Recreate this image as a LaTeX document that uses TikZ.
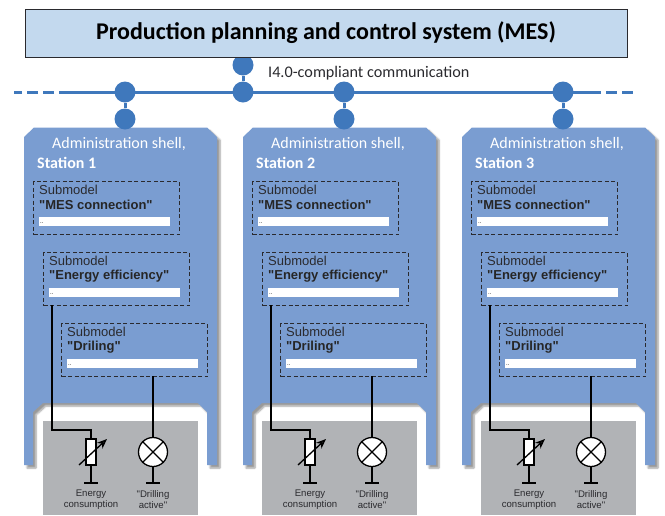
\documentclass[tikz,border=0pt]{standalone}
\usepackage{fontspec}
\newfontfamily\arial{Liberation Sans}
\newfontfamily\calibri{Carlito}
\usepackage{xcolor}
\usetikzlibrary{arrows.meta,positioning,shadows.blur}
\definecolor{busblue}{HTML}{3F78BC}
\definecolor{shellblue}{HTML}{7A9DD1}
\definecolor{headblue}{HTML}{C3D9EE}
\definecolor{boxgray}{HTML}{B1B3B6}
\definecolor{inkgray}{HTML}{2A2A2E}
\tikzset{
  x=1pt, y=-1pt,
  joint/.style={circle, fill=busblue, minimum size=21pt, inner sep=0},
  bus/.style={busblue, line width=3pt},
  shell/.style={fill=shellblue, blur shadow={shadow xshift=3pt, shadow yshift=-3pt, shadow blur steps=6}},
  submodel/.style={draw=inkgray, dash pattern=on 4pt off 2.5pt, line width=1.2pt, minimum width=146pt, minimum height=53pt, inner sep=0, anchor=north west},
  bar/.style={fill=white, minimum width=131pt, minimum height=9pt, inner sep=0, anchor=north west},
  wire/.style={draw=black, line width=1.3pt},
  small/.style={font=\arial\fontsize{9.6}{11.3}\selectfont, text=inkgray, align=center},
}

\begin{document}
\begin{tikzpicture}
    \useasboundingbox (0,0) rectangle (665,515);

    % bus
    \coordinate (busleft) at (14,92);
    \coordinate (busright) at (636,92);
    \coordinate (busa) at (70,92);
    \coordinate (busb) at (590,92);
    \draw[bus] (busa) -- (busb);
    \draw[bus, dash pattern=on 11pt off 5pt] (busa) -- (busleft);
    \draw[bus, dash pattern=on 11pt off 5pt] (busb) -- (busright);

    % stations
    \foreach \n/\dx in {1/0,2/219,3/438}{
      \begin{scope}[xshift=\dx pt]
        \draw[shell, draw=none]
          (24,137) -- (34,127.5) -- (207,127.5) -- (217,137) -- (217,465) -- (207,465)
          -- (207,412) -- (198,403) -- (43,403) -- (33,412) -- (33,465) -- (24,465) -- cycle;
        \node[fill=boxgray, minimum width=155pt, minimum height=94pt, inner sep=0, anchor=north west] (plant\n) at (43,421) {};

        \node[text=white, font=\calibri\fontsize{16}{18}\selectfont] (shell\n) at (119,144) {Administration shell,};
        \node[text=white, font=\calibri\bfseries\fontsize{16}{18}\selectfont, anchor=west, inner sep=0] (name\n) at (37,163) {Station \n};

        \foreach \s/\t/\lx/\ly in {mes/"MES connection"/33/181, energy/"Energy efficiency"/43/252, drill/"Driling"/61/323}{
          \node[submodel] (\s\n) at (\lx,\ly) {};
          \node[anchor=west, inner sep=0, text=inkgray, font=\arial\fontsize{13}{15}\selectfont] (\s label\n) at ([shift={(6,8.5)}]\lx,\ly) {Submodel};
          \node[anchor=west, inner sep=0, text=black!85, font=\arial\bfseries\fontsize{13}{15}\selectfont] (\s title\n) at ([shift={(6,24)}]\lx,\ly) {\t};
          \node[bar] (\s bar\n) at ([shift={(6,36)}]\lx,\ly) {};
          \node[anchor=west, inner sep=0, font=\arial\fontsize{6}{7}\selectfont] (\s dots\n) at ([shift={(1,1)}]\s bar\n.west) {..};
        }

        % instruments
        \node[draw=black, fill=white, line width=1.3pt, minimum width=10pt, minimum height=26pt, inner sep=0] (res\n) at (91,452) {};
        \node[draw=black, fill=white, line width=1.3pt, circle, minimum size=29pt, inner sep=0] (lamp\n) at (153,452) {};
        \draw[wire] (lamp\n.45) -- (lamp\n.225) (lamp\n.135) -- (lamp\n.315);

        \coordinate (reswire\n) at (52,305);
        \coordinate (resknee\n) at (52,430);
        \coordinate (resin\n) at (res\n.north |- resknee\n);
        \coordinate (lampwire\n) at (153,376);
        \draw[wire] (reswire\n) -- (resknee\n) -- (resin\n) -- (res\n.north);
        \draw[wire] (lampwire\n) -- (lamp\n.north);

        \coordinate (resend\n) at (91,483);
        \coordinate (lampend\n) at (153,483);
        \draw[wire] (res\n.south) -- (resend\n);
        \draw[wire] (lamp\n.south) -- (lampend\n);
        \draw[line width=1.5pt] ([xshift=-7pt]resend\n) -- ([xshift=7pt]resend\n);
        \draw[line width=1.5pt] ([xshift=-7pt]lampend\n) -- ([xshift=7pt]lampend\n);

        \coordinate (arrowa\n) at (79,465);
        \coordinate (arrowb\n) at (107,439);
        \draw[line width=1.3pt, -{Stealth[length=10pt,width=8pt]}] (arrowa\n) -- (arrowb\n);

        \node[small] (reslabel\n) at (91,499.5) {Energy\\consumption};
        \node[small] (lamplabel\n) at (153,499.5) {"Drilling\\active"};
      \end{scope}
    }

    % bus joints
    \node[joint] (top) at (243,65) {};
    \node[joint] (hub) at (243,92) {};
    \draw[bus] (top) -- (hub);
    \foreach \n/\jx in {1/125,2/344,3/563}{
      \node[joint] (tap\n) at (\jx,92) {};
      \node[joint] (stub\n) at (\jx,119) {};
      \draw[bus] (tap\n) -- (stub\n);
    }
    \node[anchor=west, inner sep=0, text=inkgray, font=\calibri\fontsize{16.2}{18}\selectfont] (comm) at (268,73) {I4.0-compliant communication};

    % head
    \node[draw=inkgray, fill=headblue, line width=1pt, minimum width=602pt, minimum height=48pt, inner sep=0, font=\calibri\bfseries\fontsize{24}{28}\selectfont] (mes) at (326,33) {Production planning and control system (MES)};
\end{tikzpicture}
\end{document}
